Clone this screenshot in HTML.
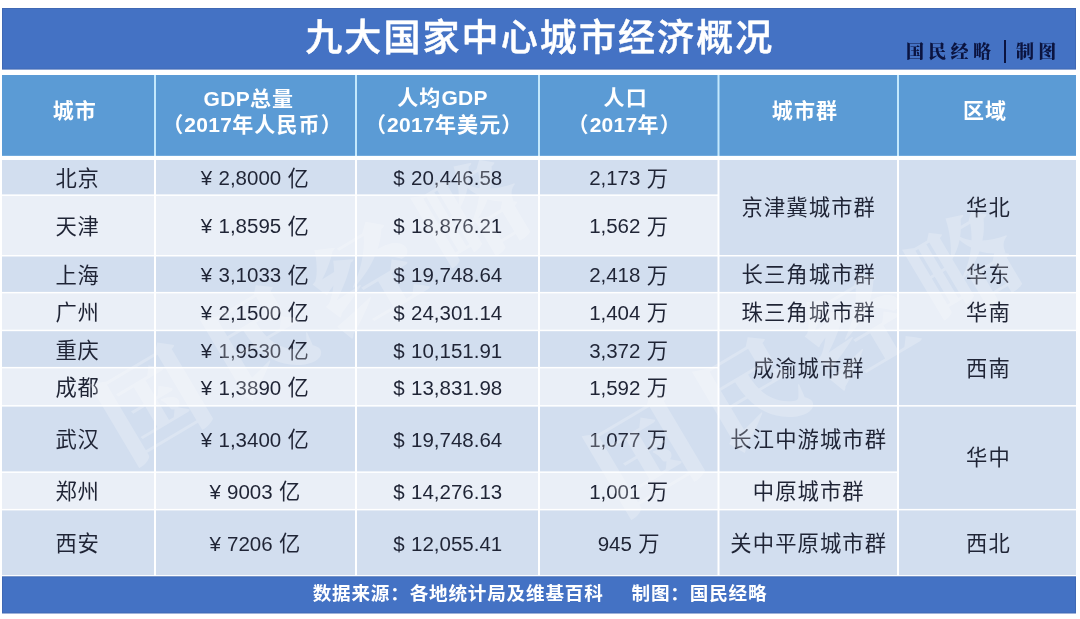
<!DOCTYPE html>
<html lang="zh-CN"><head><meta charset="utf-8"><title>九大国家中心城市经济概况</title>
<style>
html,body{margin:0;padding:0;background:#fff;}
body{width:1080px;height:619px;position:relative;overflow:hidden;font-family:"Liberation Sans","Noto Sans CJK SC",sans-serif;}
svg.bg{position:absolute;left:0;top:0;}
.c{position:absolute;width:0;height:0;}
.c>div{position:absolute;left:-300px;width:600px;top:-50px;height:100px;display:flex;align-items:center;justify-content:center;text-align:center;white-space:nowrap;}
.c p{margin:0;padding:0;}
.title p{color:#fff;font-size:37px;font-weight:500;letter-spacing:2.1px;-webkit-text-stroke:0.5px #fff;line-height:50px;font-family:"Noto Sans CJK SC",sans-serif;}
.mark{position:absolute;left:906px;top:38px;height:24px;line-height:24px;font-family:"Noto Serif CJK SC",serif;font-weight:900;font-size:18px;color:#0b1440;letter-spacing:4.3px;white-space:nowrap;}
.mark i{display:inline-block;width:2px;height:23.5px;background:#0b1440;vertical-align:-5.2px;margin:0 10.5px 0 8.3px;}
.th p{color:#fff;font-weight:bold;font-size:21px;letter-spacing:1.1px;line-height:26px;}
.hn{font-size:21px;letter-spacing:0.3px;}
.td p{color:#1f2435;font-size:21.3px;letter-spacing:0.7px;line-height:30px;}
.g p{letter-spacing:1.1px;}
.n{font-size:20.5px;letter-spacing:0;word-spacing:0.6px;position:relative;top:-1.3px;}
.lo .n{top:0;}
.foot p{color:#fff;font-weight:bold;font-size:18.6px;letter-spacing:0.8px;line-height:30px;}
.wmbox{position:absolute;left:2px;top:160px;width:1074px;height:415px;overflow:hidden;pointer-events:none;}
.wm{position:absolute;width:0;height:0;margin-top:-160px;margin-left:-2px;}
.wm::before{content:none;}
.wm{font-family:"Noto Serif CJK SC",serif;font-weight:900;font-size:104px;line-height:0;letter-spacing:20px;color:rgba(255,255,255,0.22);white-space:nowrap;text-indent:-248px;transform:rotate(-30.7deg);}
.foot .gap{display:inline-block;width:28px;}
</style></head>
<body>
<svg class="bg" width="1080" height="619" viewBox="0 0 1080 619"><rect x="2" y="8" width="1074" height="61.6" fill="#3f68b4"/><rect x="3" y="9" width="1072" height="59.6" fill="#4472c4"/><rect x="2" y="75" width="1074" height="80.8" fill="#c4e8fc"/><rect x="2" y="75" width="152" height="80.8" fill="#5b9bd5"/><rect x="156" y="75" width="199" height="80.8" fill="#5b9bd5"/><rect x="357" y="75" width="181" height="80.8" fill="#5b9bd5"/><rect x="540" y="75" width="177.5" height="80.8" fill="#5b9bd5"/><rect x="719.5" y="75" width="177.5" height="80.8" fill="#5b9bd5"/><rect x="899" y="75" width="177" height="80.8" fill="#5b9bd5"/><rect x="2" y="160" width="152" height="34.4" fill="#d2deef"/><rect x="156" y="160" width="199" height="34.4" fill="#d2deef"/><rect x="357" y="160" width="181" height="34.4" fill="#d2deef"/><rect x="540" y="160" width="177.5" height="34.4" fill="#d2deef"/><rect x="2" y="195.9" width="152" height="59.1" fill="#eaeff7"/><rect x="156" y="195.9" width="199" height="59.1" fill="#eaeff7"/><rect x="357" y="195.9" width="181" height="59.1" fill="#eaeff7"/><rect x="540" y="195.9" width="177.5" height="59.1" fill="#eaeff7"/><rect x="2" y="256.5" width="152" height="35.4" fill="#d2deef"/><rect x="156" y="256.5" width="199" height="35.4" fill="#d2deef"/><rect x="357" y="256.5" width="181" height="35.4" fill="#d2deef"/><rect x="540" y="256.5" width="177.5" height="35.4" fill="#d2deef"/><rect x="2" y="293.4" width="152" height="36.3" fill="#eaeff7"/><rect x="156" y="293.4" width="199" height="36.3" fill="#eaeff7"/><rect x="357" y="293.4" width="181" height="36.3" fill="#eaeff7"/><rect x="540" y="293.4" width="177.5" height="36.3" fill="#eaeff7"/><rect x="2" y="331.2" width="152" height="35.7" fill="#d2deef"/><rect x="156" y="331.2" width="199" height="35.7" fill="#d2deef"/><rect x="357" y="331.2" width="181" height="35.7" fill="#d2deef"/><rect x="540" y="331.2" width="177.5" height="35.7" fill="#d2deef"/><rect x="2" y="368.4" width="152" height="36.7" fill="#eaeff7"/><rect x="156" y="368.4" width="199" height="36.7" fill="#eaeff7"/><rect x="357" y="368.4" width="181" height="36.7" fill="#eaeff7"/><rect x="540" y="368.4" width="177.5" height="36.7" fill="#eaeff7"/><rect x="2" y="406.6" width="152" height="64.8" fill="#d2deef"/><rect x="156" y="406.6" width="199" height="64.8" fill="#d2deef"/><rect x="357" y="406.6" width="181" height="64.8" fill="#d2deef"/><rect x="540" y="406.6" width="177.5" height="64.8" fill="#d2deef"/><rect x="2" y="472.9" width="152" height="36" fill="#eaeff7"/><rect x="156" y="472.9" width="199" height="36" fill="#eaeff7"/><rect x="357" y="472.9" width="181" height="36" fill="#eaeff7"/><rect x="540" y="472.9" width="177.5" height="36" fill="#eaeff7"/><rect x="2" y="510.4" width="152" height="64.7" fill="#d2deef"/><rect x="156" y="510.4" width="199" height="64.7" fill="#d2deef"/><rect x="357" y="510.4" width="181" height="64.7" fill="#d2deef"/><rect x="540" y="510.4" width="177.5" height="64.7" fill="#d2deef"/><rect x="719.5" y="160" width="177.5" height="95" fill="#d2deef"/><rect x="719.5" y="256.5" width="177.5" height="35.4" fill="#d2deef"/><rect x="719.5" y="293.4" width="177.5" height="36.3" fill="#eaeff7"/><rect x="719.5" y="331.2" width="177.5" height="73.9" fill="#d2deef"/><rect x="719.5" y="406.6" width="177.5" height="64.8" fill="#d2deef"/><rect x="719.5" y="472.9" width="177.5" height="36" fill="#eaeff7"/><rect x="719.5" y="510.4" width="177.5" height="64.7" fill="#d2deef"/><rect x="899" y="160" width="177" height="95" fill="#d2deef"/><rect x="899" y="256.5" width="177" height="35.4" fill="#d2deef"/><rect x="899" y="293.4" width="177" height="36.3" fill="#eaeff7"/><rect x="899" y="331.2" width="177" height="73.9" fill="#d2deef"/><rect x="899" y="406.6" width="177" height="102.3" fill="#d2deef"/><rect x="899" y="510.4" width="177" height="64.7" fill="#d2deef"/><rect x="2" y="576.3" width="1074" height="37.2" fill="#3f68b4"/><rect x="3" y="577.3" width="1072" height="35.2" fill="#4472c4"/></svg>
<div class="c title" style="left:539.8px;top:35.3px"><div><p>九大国家中心城市经济概况</p></div></div>
<div class="mark">国民经略<i></i>制图</div>
<div class="c th" id="h0_0" style="left:74.85px;top:111.15px"><div><p>城市</p></div></div>
<div class="c th" id="h1_0" style="left:248.85px;top:98.65px"><div><p><span class="hn">GDP</span>总量</p></div></div>
<div class="c th" id="h1_1" style="left:252.5px;top:124.5px"><div><p>（<span class="hn">2017</span>年人民币）</p></div></div>
<div class="c th" id="h2_0" style="left:442.5px;top:98.15px"><div><p>人均<span class="hn">GDP</span></p></div></div>
<div class="c th" id="h2_1" style="left:444.15px;top:124.5px"><div><p>（<span class="hn">2017</span>年美元）</p></div></div>
<div class="c th" id="h3_0" style="left:625.65px;top:97.9px"><div><p>人口</p></div></div>
<div class="c th" id="h3_1" style="left:624.65px;top:124.5px"><div><p>（<span class="hn">2017</span>年）</p></div></div>
<div class="c th" id="h4_0" style="left:805px;top:111.15px"><div><p>城市群</p></div></div>
<div class="c th" id="h5_0" style="left:985px;top:111.15px"><div><p>区域</p></div></div>
<div class="c td" style="left:77.5px;top:179.2px"><div><p>北京</p></div></div>
<div class="c td" style="left:255.2px;top:179.2px"><div><p><span class="n">¥ 2,8000 </span>亿</p></div></div>
<div class="c td" style="left:447.8px;top:179.2px"><div><p><span class="n">$ 20,446.58</span></p></div></div>
<div class="c td" style="left:628.95px;top:179.2px"><div><p><span class="n">2,173 </span>万</p></div></div>
<div class="c td" style="left:77.5px;top:227.45px"><div><p>天津</p></div></div>
<div class="c td" style="left:255.2px;top:227.45px"><div><p><span class="n">¥ 1,8595 </span>亿</p></div></div>
<div class="c td" style="left:447.8px;top:227.45px"><div><p><span class="n">$ 18,876.21</span></p></div></div>
<div class="c td" style="left:628.95px;top:227.45px"><div><p><span class="n">1,562 </span>万</p></div></div>
<div class="c td" style="left:77.5px;top:276.2px"><div><p>上海</p></div></div>
<div class="c td" style="left:255.2px;top:276.2px"><div><p><span class="n">¥ 3,1033 </span>亿</p></div></div>
<div class="c td" style="left:447.8px;top:276.2px"><div><p><span class="n">$ 19,748.64</span></p></div></div>
<div class="c td" style="left:628.95px;top:276.2px"><div><p><span class="n">2,418 </span>万</p></div></div>
<div class="c td lo" style="left:77.5px;top:312.75px"><div><p>广州</p></div></div>
<div class="c td lo" style="left:255.2px;top:312.75px"><div><p><span class="n">¥ 2,1500 </span>亿</p></div></div>
<div class="c td lo" style="left:447.8px;top:312.75px"><div><p><span class="n">$ 24,301.14</span></p></div></div>
<div class="c td lo" style="left:628.95px;top:312.75px"><div><p><span class="n">1,404 </span>万</p></div></div>
<div class="c td lo" style="left:77.5px;top:350.75px"><div><p>重庆</p></div></div>
<div class="c td lo" style="left:255.2px;top:350.75px"><div><p><span class="n">¥ 1,9530 </span>亿</p></div></div>
<div class="c td lo" style="left:447.8px;top:350.75px"><div><p><span class="n">$ 10,151.91</span></p></div></div>
<div class="c td lo" style="left:628.95px;top:350.75px"><div><p><span class="n">3,372 </span>万</p></div></div>
<div class="c td lo" style="left:77.5px;top:387.75px"><div><p>成都</p></div></div>
<div class="c td lo" style="left:255.2px;top:387.75px"><div><p><span class="n">¥ 1,3890 </span>亿</p></div></div>
<div class="c td lo" style="left:447.8px;top:387.75px"><div><p><span class="n">$ 13,831.98</span></p></div></div>
<div class="c td lo" style="left:628.95px;top:387.75px"><div><p><span class="n">1,592 </span>万</p></div></div>
<div class="c td lo" style="left:77.5px;top:440px"><div><p>武汉</p></div></div>
<div class="c td lo" style="left:255.2px;top:440px"><div><p><span class="n">¥ 1,3400 </span>亿</p></div></div>
<div class="c td lo" style="left:447.8px;top:440px"><div><p><span class="n">$ 19,748.64</span></p></div></div>
<div class="c td lo" style="left:628.95px;top:440px"><div><p><span class="n">1,077 </span>万</p></div></div>
<div class="c td lo" style="left:77.5px;top:491.9px"><div><p>郑州</p></div></div>
<div class="c td lo" style="left:255.2px;top:491.9px"><div><p><span class="n">¥ 9003 </span>亿</p></div></div>
<div class="c td lo" style="left:447.8px;top:491.9px"><div><p><span class="n">$ 14,276.13</span></p></div></div>
<div class="c td lo" style="left:628.95px;top:491.9px"><div><p><span class="n">1,001 </span>万</p></div></div>
<div class="c td lo" style="left:77.5px;top:543.75px"><div><p>西安</p></div></div>
<div class="c td lo" style="left:255.2px;top:543.75px"><div><p><span class="n">¥ 7206 </span>亿</p></div></div>
<div class="c td lo" style="left:447.8px;top:543.75px"><div><p><span class="n">$ 12,055.41</span></p></div></div>
<div class="c td lo" style="left:628.95px;top:543.75px"><div><p><span class="n">945 </span>万</p></div></div>
<div class="c td g" style="left:808.75px;top:208px"><div><p>京津冀城市群</p></div></div>
<div class="c td g" style="left:808.75px;top:275.2px"><div><p>长三角城市群</p></div></div>
<div class="c td g" style="left:808.75px;top:312.55px"><div><p>珠三角城市群</p></div></div>
<div class="c td g" style="left:808.75px;top:369.45px"><div><p>成渝城市群</p></div></div>
<div class="c td g" style="left:808.75px;top:440px"><div><p>长江中游城市群</p></div></div>
<div class="c td g" style="left:808.75px;top:491.9px"><div><p>中原城市群</p></div></div>
<div class="c td g" style="left:808.75px;top:543.75px"><div><p>关中平原城市群</p></div></div>
<div class="c td g" style="left:988.5px;top:208.2px"><div><p>华北</p></div></div>
<div class="c td g" style="left:988.5px;top:275.2px"><div><p>华东</p></div></div>
<div class="c td g" style="left:988.5px;top:312.55px"><div><p>华南</p></div></div>
<div class="c td g" style="left:988.5px;top:369.45px"><div><p>西南</p></div></div>
<div class="c td g" style="left:988.5px;top:458.45px"><div><p>华中</p></div></div>
<div class="c td g" style="left:988.5px;top:543.75px"><div><p>西北</p></div></div>
<div class="wmbox"><div class="wm" style="left:318px;top:298px">国民经略</div><div class="wm" style="left:810px;top:350px">国民经略</div></div>
<div class="c foot" style="left:540px;top:594.2px"><div><p>数据来源：各地统计局及维基百科<b class="gap"></b>制图：国民经略</p></div></div>
</body></html>
